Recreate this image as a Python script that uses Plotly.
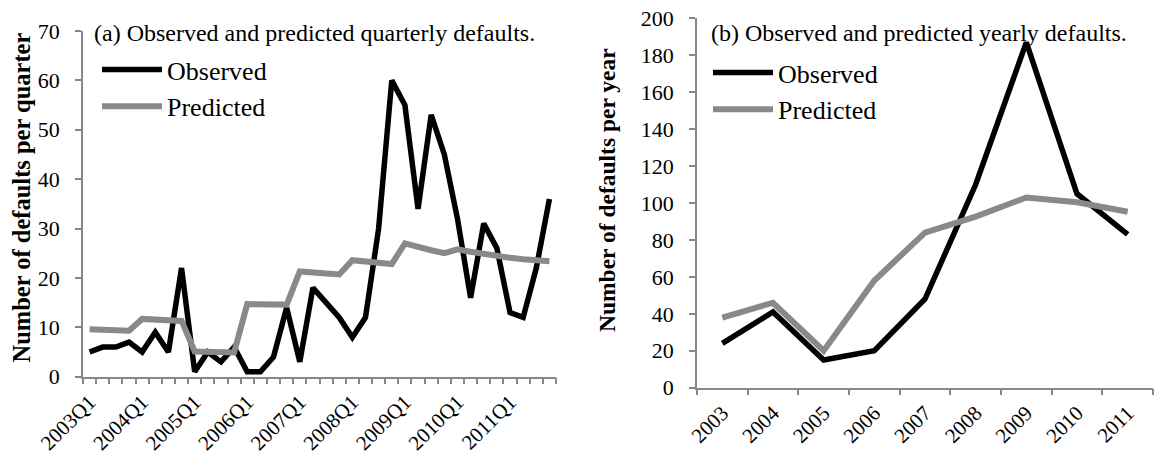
import plotly.graph_objects as go

quarters = [f"{y}Q{q}" for y in range(2003, 2012) for q in range(1, 5)]
quarter_labels = [q if q.endswith("Q1") else "" for q in quarters]
obs_q = [5, 6, 6, 7, 5, 9, 5, 22, 1, 5, 3, 6, 1, 1, 4, 14, 3, 18, 15, 12,
         8, 12, 30, 60, 55, 34, 53, 45, 32, 16, 31, 26, 13, 12, 22, 36]
pred_q = [9.6, 9.5, 9.4, 9.3, 11.7, 11.6, 11.5, 11.3, 5.1, 5.0, 5.0, 4.9,
          14.7, 14.7, 14.6, 14.6, 21.3, 21.1, 20.9, 20.7, 23.6, 23.4, 23.1, 22.8,
          27.0, 26.2, 25.6, 25.0, 25.8, 25.3, 24.8, 24.3, 24.1, 23.8, 23.6, 23.4]

years = [str(y) for y in range(2003, 2012)]
obs_y = [24, 41, 15, 20, 48, 110, 187, 105, 83]
pred_y = [38, 46, 20, 58, 84, 92.6, 103, 100.4, 95.3]

FONT = "Liberation Serif"
BLACK = "#000000"
GREY = "#898989"
AXIS = "#888888"
W, H = 1154, 460

fig = go.Figure()
fig.add_trace(go.Scatter(x=quarters, y=obs_q, mode="lines", name="Observed",
                         line=dict(color=BLACK, width=5.5), xaxis="x", yaxis="y", legend="legend"))
fig.add_trace(go.Scatter(x=quarters, y=pred_q, mode="lines", name="Predicted",
                         line=dict(color=GREY, width=6), xaxis="x", yaxis="y", legend="legend"))
fig.add_trace(go.Scatter(x=years, y=obs_y, mode="lines", name="Observed",
                         line=dict(color=BLACK, width=5.5), xaxis="x2", yaxis="y2", legend="legend2"))
fig.add_trace(go.Scatter(x=years, y=pred_y, mode="lines", name="Predicted",
                         line=dict(color=GREY, width=6), xaxis="x2", yaxis="y2", legend="legend2"))


def xaxis_style(**kw):
    d = dict(type="category", showline=True, linecolor=AXIS, linewidth=1.5,
             ticks="outside", ticklen=6, tickcolor=AXIS, tickwidth=1.5,
             tickson="boundaries", showgrid=False, zeroline=False,
             tickangle=-45, tickfont=dict(family=FONT, size=21, color="#000"),
             automargin=False, ticklabelstandoff=3)
    d.update(kw)
    return d


def yaxis_style(**kw):
    d = dict(showline=True, linecolor=AXIS, linewidth=1.5, ticks="outside",
             ticklen=6, tickcolor=AXIS, tickwidth=1.5, showgrid=False,
             zeroline=False, tickfont=dict(family=FONT, size=22, color="#000"),
             automargin=False, ticklabelstandoff=11)
    d.update(kw)
    return d


def text_note(text, x, y, size, angle=0, xanchor="left"):
    return dict(text=text, x=x / W, y=1 - y / H, xref="paper", yref="paper",
                xanchor=xanchor, yanchor="middle", showarrow=False, textangle=angle,
                font=dict(family=FONT, size=size, color="#000"))


fig.update_layout(
    width=W, height=H, margin=dict(l=0, r=0, t=0, b=0, autoexpand=False),
    paper_bgcolor="white", plot_bgcolor="white",
    font=dict(family=FONT, color="#000"),
    xaxis=xaxis_style(domain=[83 / W, 556 / W], anchor="y",
                      range=[-0.5, len(quarters) - 0.5],
                      tickmode="array", tickvals=quarters, ticktext=quarter_labels),
    yaxis=yaxis_style(domain=[1 - 376.7 / H, 1 - 31 / H], anchor="x",
                      range=[0, 70], dtick=10),
    xaxis2=xaxis_style(domain=[697 / W, 1153 / W], anchor="y2",
                       range=[-0.5, len(years) - 0.5]),
    yaxis2=yaxis_style(domain=[1 - 387.7 / H, 1 - 18.3 / H], anchor="x2",
                       range=[0, 200], dtick=20),
    legend=dict(x=97 / W, y=1 - 46 / H, xanchor="left", yanchor="top",
                bgcolor="rgba(0,0,0,0)", font=dict(family=FONT, size=26),
                itemwidth=60, tracegroupgap=0),
    legend2=dict(x=708 / W, y=1 - 49 / H, xanchor="left", yanchor="top",
                 bgcolor="rgba(0,0,0,0)", font=dict(family=FONT, size=26),
                 itemwidth=60, tracegroupgap=0),
    annotations=[
        text_note("(a) Observed and predicted quarterly defaults.", 92, 33, 24),
        text_note("(b) Observed and predicted yearly defaults.", 709, 33, 24),
        text_note("<b>Number of defaults per quarter</b>", 21, 197.5, 24.5, -90, "center"),
        text_note("<b>Number of defaults per year</b>", 607, 190, 23.5, -90, "center"),
    ],
)

fig.write_html("out.html")
